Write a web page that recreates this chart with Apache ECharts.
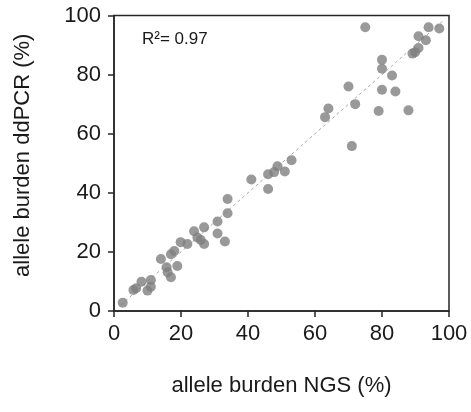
<!DOCTYPE html>
<html>
<head>
<meta charset="utf-8">
<script src="https://cdn.jsdelivr.net/npm/echarts@6/dist/echarts.min.js"></script>
<style>
  html, body { margin: 0; padding: 0; background: #fff; }
  #chart { width: 471px; height: 412px; }
</style>
</head>
<body>
<div id="chart"></div>
<script>
// NGS vs ddPCR allele burden (%)
const ngs = [2.6, 5.8, 6.6, 8.2, 10, 11, 11, 14, 15.7, 16, 17, 17, 18, 18.9, 19.9, 21.9,
  23.9, 24.9, 25.9, 26.9, 26.9, 30.9, 30.9, 33.1, 33.9, 33.9, 41, 46, 46, 47.8, 48.8, 51, 53,
  63, 64, 70, 71, 72, 75, 79, 80, 80, 80, 83, 84, 87.9, 89.1, 89.9, 90.9, 90.9, 93.1, 93.9, 97.1];
const ddpcr = [2.8, 7.1, 7.7, 9.9, 6.9, 8.2, 10.5, 17.6, 14.8, 13.1, 11.4, 19.2, 20.3, 15.2, 23.3, 22.7,
  27, 24.9, 24, 22.7, 28.3, 30.3, 26.2, 23.5, 33.1, 37.9, 44.5, 41.3, 46.3, 47, 49, 47.2, 51,
  65.6, 68.5, 76, 55.8, 70, 96, 67.7, 85, 82, 74.9, 79.7, 74.3, 67.9, 87.1, 87.6, 89, 93, 91.6, 96, 95.6];
// identity (y = x) reference line endpoints
const fitX = [2, 98];
const fitY = [2, 98];
const ticks = [0, 20, 40, 60, 80, 100];
const r2Text = 'R²= 0.97';

const points = ngs.map((x, i) => [x, ddpcr[i]]);
const fitLine = fitX.map((x, i) => [x, fitY[i]]);

const chart = echarts.init(document.getElementById('chart'));
const font = 'Liberation Sans, Arial, sans-serif';
const axisColor = '#262626';

chart.setOption({
  animation: false,
  grid: {
    left: 114, top: 15.5, right: 22, bottom: 101,
    show: true, borderColor: axisColor, borderWidth: 1.5
  },
  xAxis: {
    type: 'value', min: ticks[0], max: ticks[ticks.length - 1], interval: 20,
    name: 'allele burden NGS (%)', nameLocation: 'middle', nameGap: 64,
    nameTextStyle: { fontSize: 22, color: '#1a1a1a', fontFamily: font },
    axisLine: { show: true, lineStyle: { color: axisColor, width: 1.5 } },
    axisTick: { show: true, length: 6, lineStyle: { color: axisColor, width: 1.5 } },
    axisLabel: { fontSize: 22, color: '#1a1a1a', fontFamily: font, margin: 12 },
    splitLine: { show: false }
  },
  yAxis: {
    type: 'value', min: ticks[0], max: ticks[ticks.length - 1], interval: 20,
    name: 'allele burden ddPCR (%)', nameLocation: 'middle', nameGap: 80,
    nameTextStyle: { fontSize: 22, color: '#1a1a1a', fontFamily: font, padding: [0, 0, 0, 16] },
    axisLine: { show: true, lineStyle: { color: axisColor, width: 1.5 } },
    axisTick: { show: true, length: 6, lineStyle: { color: axisColor, width: 1.5 } },
    axisLabel: { fontSize: 22, color: '#1a1a1a', fontFamily: font, margin: 13 },
    splitLine: { show: false }
  },
  graphic: [{
    type: 'text', left: 142, top: 31,
    style: { text: r2Text, fontSize: 17, fill: '#1a1a1a', fontFamily: font }
  }],
  series: [
    {
      type: 'line', data: fitLine, symbol: 'none', silent: true, z: 1,
      lineStyle: { color: '#a6a6a6', width: 1, type: [3, 3] }
    },
    {
      type: 'scatter', data: points, symbolSize: 10, z: 2,
      itemStyle: { color: '#7f7f7f' }
    }
  ]
});
</script>
</body>
</html>
